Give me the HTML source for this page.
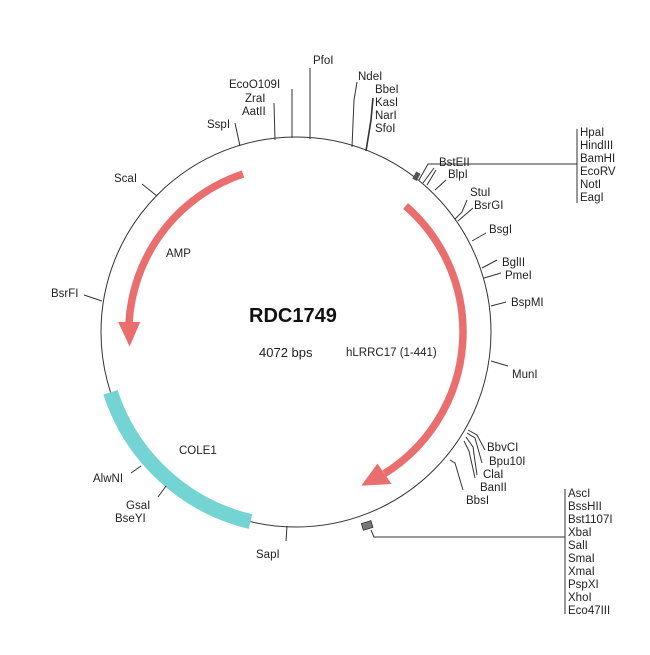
<!DOCTYPE html>
<html><head><meta charset="utf-8"><style>
html,body{margin:0;padding:0;background:#fff;}
svg text{font-family:"Liberation Sans",sans-serif;font-size:11.5px;fill:#222;}
</style></head><body>
<svg width="650" height="650" viewBox="0 0 650 650" xmlns="http://www.w3.org/2000/svg">
<rect width="650" height="650" fill="#fff"/>
<circle cx="296" cy="332" r="195" fill="none" stroke="#333" stroke-width="1"/>
<!-- COLE1 -->
<path d="M250.5,521.6 A195,195 0 0 1 110.5,392.3" fill="none" stroke="#74d4d4" stroke-width="15"/>
<!-- AMP -->
<path d="M243,174 A167,167 0 0 0 129,323" fill="none" stroke="#ea6e6e" stroke-width="7.5"/>
<polygon points="140.2,322 118.2,322 129.6,346.6" fill="#ea6e6e"/>
<!-- hLRRC17 -->
<path d="M405.6,206 A167,167 0 0 1 384.5,473.6" fill="none" stroke="#ea6e6e" stroke-width="7.5"/>
<polygon points="377.5,463.5 391.5,484 361.3,485.7" fill="#ea6e6e"/>

<g stroke="#333" stroke-width="1" fill="none">
<line x1="310" y1="68" x2="310" y2="139"/>
<line x1="292" y1="89" x2="292" y2="138"/>
<line x1="274" y1="103" x2="275" y2="140"/>
<line x1="235" y1="123" x2="240" y2="146"/>
<polyline points="357,82 354,100 352,147"/>
<polyline points="373,98 371,120 366,151" stroke-width="1.6"/>
<rect x="414" y="172" width="5" height="8" fill="#555" stroke="none" transform="rotate(30 416 176)"/>
<polyline points="419,180 428,164 577,164"/>
<line x1="577" y1="129" x2="577" y2="203"/>
<polyline points="423,183 434,168"/>
<polyline points="427,185 436,170"/>
<line x1="435" y1="190" x2="446" y2="180"/>
<polyline points="455,219 462,212 467,200"/>
<polyline points="458,221 473,208"/>
<line x1="472" y1="241" x2="486" y2="233"/>
<line x1="482" y1="268" x2="497" y2="260"/>
<line x1="484" y1="278" x2="501" y2="273"/>
<line x1="491" y1="306" x2="506" y2="302"/>
<line x1="491" y1="361" x2="508" y2="366"/>
<polyline points="468,430 477,435 485,450"/>
<polyline points="467,433 475,438 482,463"/>
<polyline points="466,437 473,447 477,475"/>
<polyline points="464,441 469,451 475,478"/>
<polyline points="450,460 455,463 463,490"/>
<rect x="362" y="522" width="10" height="7" fill="#777" stroke="#333" stroke-width="0.8" transform="rotate(-17 367 525)"/>
<polyline points="371,530 374,537 565,537"/>
<line x1="565" y1="489" x2="565" y2="614"/>
<line x1="142" y1="184" x2="157" y2="196"/>
<line x1="84" y1="295" x2="102" y2="301"/>
<line x1="131" y1="473" x2="141" y2="466"/>
<line x1="158" y1="497" x2="166" y2="486"/>
<line x1="286" y1="541" x2="287" y2="526"/>
</g>

<text x="313" y="64">PfoI</text>
<text x="229" y="88">EcoO109I</text>
<text x="245" y="102">ZraI</text>
<text x="242" y="115">AatII</text>
<text x="207" y="128">SspI</text>
<text x="358" y="80">NdeI</text>
<text x="375" y="93">BbeI</text>
<text x="375" y="106">KasI</text>
<text x="375" y="119">NarI</text>
<text x="375" y="132">SfoI</text>
<text x="439" y="166">BstEII</text>
<text x="448" y="178">BlpI</text>
<text x="470" y="196">StuI</text>
<text x="474" y="209">BsrGI</text>
<text x="489" y="233">BsgI</text>
<text x="502" y="266">BglII</text>
<text x="505" y="279">PmeI</text>
<text x="511" y="306">BspMI</text>
<text x="512" y="378">MunI</text>
<text x="487" y="451">BbvCI</text>
<text x="489" y="465">Bpu10I</text>
<text x="483" y="478">ClaI</text>
<text x="480" y="491">BanII</text>
<text x="466" y="504">BbsI</text>
<g>
<text x="580" y="136">HpaI</text>
<text x="580" y="149">HindIII</text>
<text x="580" y="162">BamHI</text>
<text x="580" y="175">EcoRV</text>
<text x="580" y="188">NotI</text>
<text x="580" y="201">EagI</text>
</g>
<g>
<text x="568" y="497">AscI</text>
<text x="568" y="510">BssHII</text>
<text x="568" y="523">Bst1107I</text>
<text x="568" y="536">XbaI</text>
<text x="568" y="549">SalI</text>
<text x="568" y="562">SmaI</text>
<text x="568" y="575">XmaI</text>
<text x="568" y="588">PspXI</text>
<text x="568" y="601">XhoI</text>
<text x="568" y="614">Eco47III</text>
</g>
<text x="114" y="182">ScaI</text>
<text x="51" y="297">BsrFI</text>
<text x="93" y="482">AlwNI</text>
<text x="126" y="509">GsaI</text>
<text x="115" y="522">BseYI</text>
<text x="256" y="558">SapI</text>

<text x="249" y="322" style="font-size:20px;font-weight:bold;fill:#111">RDC1749</text>
<text x="259" y="357" style="font-size:13px">4072 bps</text>
<text x="346" y="356">hLRRC17 (1-441)</text>
<text x="166" y="257">AMP</text>
<text x="179" y="454">COLE1</text>
</svg>
</body></html>
